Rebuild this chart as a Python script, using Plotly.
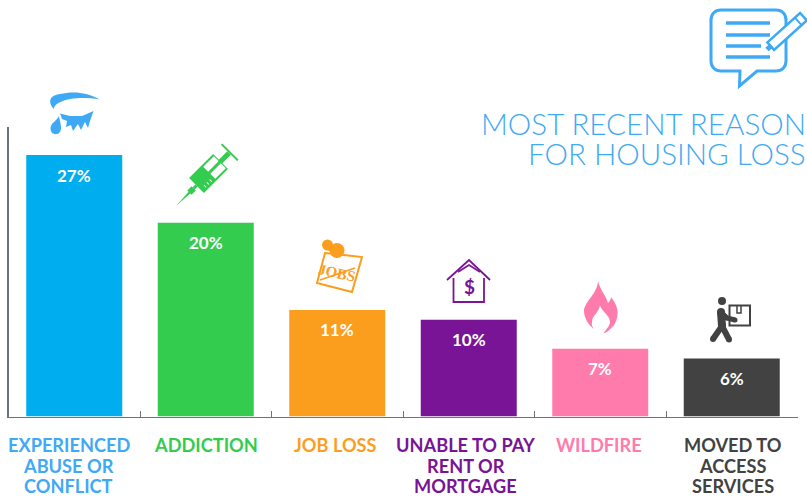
import math
import plotly.graph_objects as go

categories = ["EXPERIENCED<br>ABUSE OR<br>CONFLICT", "ADDICTION", "JOB LOSS",
              "UNABLE TO PAY<br>RENT OR<br>MORTGAGE", "WILDFIRE",
              "MOVED TO<br>ACCESS<br>SERVICES"]
values = [27, 20, 11, 10, 7, 6]
bar_colors = ["#00AEEF", "#33CC4F", "#FB9E1E", "#7A1496", "#FF7BAC", "#424242"]
label_colors = ["#3FA9F5", "#33CC4F", "#FB9E1E", "#7A1496", "#FF7BAC", "#424242"]
title_lines = ["MOST RECENT REASON", "FOR HOUSING LOSS"]

W, H = 807, 497
FONT = "Lato"
BLUE = "#3FA9F5"
GREEN = "#33CC4F"
ORANGE = "#FB9E1E"
PURPLE = "#7A1496"
PINK = "#FF7BAC"
DARK = "#424242"
AXIS = "#66757F"

shapes = []


def px(x):
    return x / W


def py(y):
    return 1 - y / H


def path(points, fill=None, line=None, lw=0, close=True):
    """Decorative icon outline, polyline given in page pixels."""
    d = "M " + " L ".join(f"{px(x):.5f},{py(y):.5f}" for x, y in points)
    if close:
        d += " Z"
    shapes.append(dict(type="path", xref="paper", yref="paper", path=d,
                       fillcolor=fill or "rgba(0,0,0,0)",
                       line=dict(color=line or "rgba(0,0,0,0)", width=lw)))


def curve(d_pts, fill=None, line=None, lw=0):
    """Bezier outline: start point then triples of control points."""
    s = f"M {px(d_pts[0][0]):.5f},{py(d_pts[0][1]):.5f}"
    for i in range(1, len(d_pts), 3):
        a, b, c = d_pts[i:i + 3]
        s += (f" C {px(a[0]):.5f},{py(a[1]):.5f} {px(b[0]):.5f},{py(b[1]):.5f}"
              f" {px(c[0]):.5f},{py(c[1]):.5f}")
    s += " Z"
    shapes.append(dict(type="path", xref="paper", yref="paper", path=s,
                       fillcolor=fill or "rgba(0,0,0,0)",
                       line=dict(color=line or "rgba(0,0,0,0)", width=lw)))


def circle(cx, cy, r, fill):
    shapes.append(dict(type="circle", xref="paper", yref="paper",
                       x0=px(cx - r), x1=px(cx + r), y0=py(cy + r), y1=py(cy - r),
                       fillcolor=fill, line=dict(width=0)))


def stroke(points, color, lw, round_ends=False):
    path(points, line=color, lw=lw, close=False)
    if round_ends:
        for x, y in points:
            circle(x, y, lw / 2, color)


def frame(ox, oy, deg):
    """Local axis-aligned box (u along, v across) mapped to page pixels."""
    a = math.radians(deg)

    def pt(u, v):
        return (ox + u * math.cos(a) - v * math.sin(a),
                oy + u * math.sin(a) + v * math.cos(a))

    def box(u0, u1, v0, v1):
        return [pt(u0, v0), pt(u1, v0), pt(u1, v1), pt(u0, v1)]
    box.pt = pt
    return box


# --- eye icon
curve([(54, 109), (47, 102), (50, 95), (60, 94), (72, 91), (88, 92), (99.5, 99.5),
       (85, 97), (70, 98), (63, 101), (58, 103), (54, 105), (54, 109)], fill=BLUE)
curve([(59, 116), (57, 121), (50, 123), (50.5, 129), (51, 135), (58, 136), (60.5, 131),
       (62, 127), (60, 122), (59, 116)], fill=BLUE)
path([(60, 113.5), (70, 116), (82, 116), (93.5, 111), (90, 121), (88, 128), (85, 122),
      (81, 130), (78, 124), (73, 131), (71, 125), (66, 127), (67, 121), (62, 119)], fill=BLUE)

# --- syringe icon
sy = frame(176, 206, -45)
path([sy.pt(0, 0), sy.pt(20, -1.2), sy.pt(20, 1.2)], fill=GREEN)
path(sy(19, 25, -3, 3), fill=GREEN)
path(sy(25, 29, -1.5, 1.5), fill=GREEN)
path(sy(29, 63, -10.5, 10.5), fill=GREEN)
path(sy(47, 62, -8.5, -1.5), fill="white")
path(sy(47, 62, 1.5, 8.5), fill="white")
for uu in (34, 38, 42):
    path(sy(uu, uu + 1, 5, 8), fill="white")
path(sy(62, 75, -2.5, 2.5), fill=GREEN)
path(sy(75, 77, -11.5, 11.5), fill=GREEN)

# --- job-loss note icon
path([(325, 253), (362, 257), (352, 292), (317, 283)], fill="white", line=ORANGE, lw=2)
circle(327.5, 245, 5.5, ORANGE)
circle(337, 250.5, 7.5, ORANGE)
stroke([(329, 247), (336, 250)], ORANGE, 7)
stroke([(320, 280), (355, 268)], ORANGE, 1.6)

# --- house icon
stroke([(447, 280), (469, 260), (490, 280)], PURPLE, 1.8)
stroke([(458, 272), (469, 265), (480, 272)], PURPLE, 1.8)
stroke([(453.5, 278), (453.5, 302), (484, 302), (484, 278)], PURPLE, 1.8)

# --- flame icon
curve([(598, 281), (600, 290), (606, 295), (608, 303), (610, 301), (611, 299), (611, 297),
       (615, 302), (618, 308), (617.5, 314), (617, 323), (612, 329), (605, 333),
       (600, 333), (600, 333), (600, 333),
       (593, 329), (585, 323), (584, 312), (583.5, 302), (597, 295), (598, 281)], fill=PINK)
curve([(600, 305), (601, 311), (610, 315), (610, 322), (610, 326), (606, 329), (604, 333),
       (601, 333), (598, 333), (596, 333), (594, 329), (591, 326), (592, 322),
       (592, 315), (599, 313), (600, 305)], fill="white")

# --- person carrying a box icon
path([(729.5, 305.5), (750, 305.5), (750, 325.5), (729.5, 325.5)], fill="white", line=DARK, lw=2)
stroke([(737, 305.5), (737, 313), (741, 313), (741, 305.5)], DARK, 1.5)
circle(722, 301, 4, DARK)
stroke([(721, 312), (722, 326)], DARK, 8, round_ends=True)
stroke([(722, 326), (713, 339)], DARK, 6, round_ends=True)
stroke([(722, 326), (729, 339.5)], DARK, 6, round_ends=True)
stroke([(721, 312), (727, 318), (735, 320)], DARK, 5, round_ends=True)

# --- speech bubble icon
r = 10
bx0, by0, bx1, by1 = 711, 10, 786, 71
curve([(bx0 + r, by0), (bx0 + r, by0), (bx1 - r, by0), (bx1 - r, by0),
       (bx1 - 4, by0), (bx1, by0 + 4), (bx1, by0 + r),
       (bx1, by0 + r), (bx1, by1 - r), (bx1, by1 - r),
       (bx1, by1 - 4), (bx1 - 4, by1), (bx1 - r, by1),
       (bx1 - r, by1), (757, by1), (757, by1),
       (757, by1), (739.5, 86), (739.5, 86),
       (739.5, 86), (740, by1), (740, by1),
       (740, by1), (bx0 + r, by1), (bx0 + r, by1),
       (bx0 + 4, by1), (bx0, by1 - 4), (bx0, by1 - r),
       (bx0, by1 - r), (bx0, by0 + r), (bx0, by0 + r),
       (bx0, by0 + 4), (bx0 + 4, by0), (bx0 + r, by0)], fill="white", line=BLUE, lw=3)
for yy, xe in [(23, 770), (35, 770), (46, 761), (57, 770)]:
    stroke([(726, yy), (xe, yy)], BLUE, 3.5)
pen = frame(767, 49.5, -42)
path(pen(5, 49, -5, 5), fill="white", line=BLUE, lw=2.5)
path(pen(0, 6, -2.5, 2.5), fill=BLUE)
stroke([pen.pt(42, -5), pen.pt(42, 5)], BLUE, 2)

annotations = []
line_y = [444.5, 465.5, 485.5]
for i, (v, cat) in enumerate(zip(values, categories)):
    annotations.append(dict(x=i, y=v, xref="x", yref="y", yshift=-20, showarrow=False,
                            text=f"{v}%", yanchor="middle",
                            font=dict(family=FONT, size=17, color="white", weight=700)))
    for part, yy in zip(cat.split("<br>"), line_y):
        annotations.append(dict(x=i, y=py(yy), xref="x", yref="paper", yanchor="middle",
                                showarrow=False, text=part, borderpad=0,
                                xshift=[-5.5, 0, -2, -3, -1, 1][i],
                                font=dict(family=FONT, size=18.2, color=label_colors[i], weight=700)))
for line, yy in zip(title_lines, [122.5, 153.5]):
    annotations.append(dict(x=1, y=py(yy), xref="paper", yref="paper", xanchor="right",
                            yanchor="middle", showarrow=False, text=line,
                            height=26, borderpad=0,
                            font=dict(family=FONT, size=29.6, color=BLUE, weight=300)))
annotations.append(dict(x=px(337), y=py(273), xref="paper", yref="paper", showarrow=False,
                        text="JOBS", textangle=12,
                        font=dict(family="Liberation Sans Narrow", size=15, color=ORANGE, weight=700)))
annotations.append(dict(x=px(469), y=py(286.5), xref="paper", yref="paper", showarrow=False,
                        text="$", font=dict(family=FONT, size=19, color=PURPLE, weight=700)))

fig = go.Figure(go.Bar(x=list(range(len(values))), y=values, width=0.73,
                       marker=dict(color=bar_colors, line=dict(width=0)),
                       hoverinfo="skip"))
fig.update_layout(
    width=W, height=H, margin=dict(l=0, r=0, t=0, b=0),
    paper_bgcolor="white", plot_bgcolor="white", showlegend=False,
    shapes=shapes, annotations=annotations,
    xaxis=dict(domain=[8.5 / W, 797.5 / W], range=[-0.5, 5.5], tickmode="array",
               tickvals=[0.5, 1.5, 2.5, 3.5, 4.5, 5.5], ticktext=[""] * 6, ticks="inside",
               ticklen=6, tickwidth=1, tickcolor=AXIS, showgrid=False, zeroline=False,
               showline=True, linecolor=AXIS, linewidth=1),
    yaxis=dict(domain=[(H - 416.5) / H, (H - 127) / H], range=[0, 29.9], showticklabels=False,
               ticks="", showgrid=False, zeroline=False, showline=True, linecolor=AXIS,
               linewidth=1.5),
)
fig.write_html("out.html", config={"displayModeBar": False},
               post_script="document.body.style.margin='0';")
